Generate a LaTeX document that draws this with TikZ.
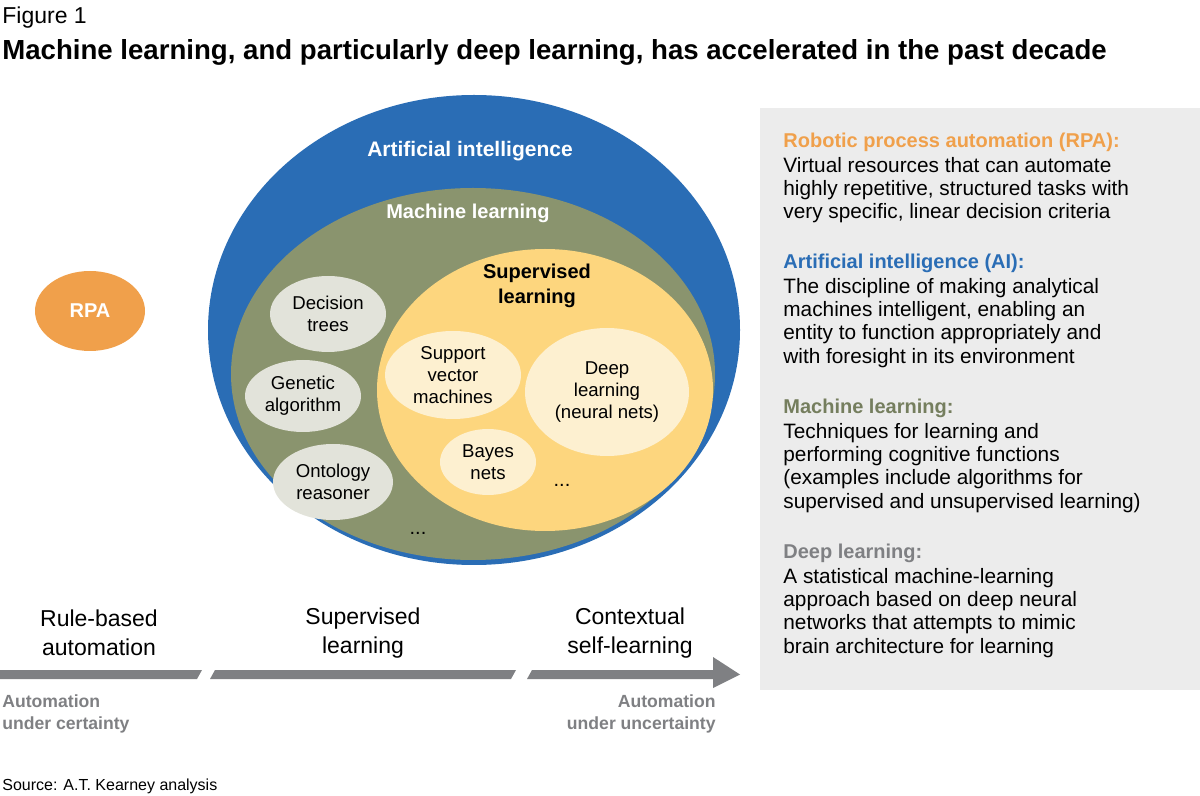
\documentclass[tikz,border=0pt]{standalone}
\usepackage{fontspec}
\setmainfont{Liberation Sans}
\usetikzlibrary{calc,shapes.geometric,arrows.meta}
\definecolor{aiblue}{HTML}{2A6DB5}
\definecolor{mlolive}{HTML}{8A946E}
\definecolor{slyellow}{HTML}{FDD67E}
\definecolor{dlcream}{HTML}{FDF0D0}
\definecolor{algogrey}{HTML}{E2E3DA}
\definecolor{rpaorange}{HTML}{F0A04B}
\definecolor{barGrey}{HTML}{7F8083}
\definecolor{panelGrey}{HTML}{ECECEC}
\definecolor{dlGrey}{HTML}{7F8083}
\tikzset{
  blob/.style={ellipse,inner sep=0pt,align=center,font=\fontsize{9.3}{11}\selectfont},
  heading/.style={anchor=north west,inner sep=0pt,font=\fontsize{10}{11.5}\selectfont\bfseries},
  body/.style={anchor=north west,inner sep=0pt,align=left,font=\fontsize{10.4}{11.6}\selectfont},
  stage/.style={align=center,font=\fontsize{11.5}{14.5}\selectfont},
  pole/.style={inner sep=0pt,font=\fontsize{8.8}{11}\selectfont\bfseries,text=barGrey}
}
\begin{document}
\begin{tikzpicture}[x=0.5pt,y=-0.5pt]
  \useasboundingbox (0,0) rectangle (1200,796);

  %% Title
  \node[anchor=west,inner sep=0pt,font=\fontsize{11.5}{12}\selectfont] (fig) at (2,18) {Figure 1};
  \node[anchor=west,inner sep=0pt,font=\fontsize{13.8}{14}\selectfont\bfseries] (title) at (2,52)
    {Machine learning, and particularly deep learning, has accelerated in the past decade};

  %% Nested sets (sizes in px, halved to pt)
  \node[blob,fill=aiblue,minimum width=266pt,minimum height=235pt] (AI) at (474,330) {};
  \node[font=\fontsize{10.5}{12}\selectfont\bfseries,text=white] (AIlab) at (470,151) {Artificial intelligence};
  \node[blob,fill=mlolive,minimum width=242pt,minimum height=186pt] (ML) at (473,374) {};
  \node[font=\fontsize{10}{12}\selectfont\bfseries,text=white] (MLlab) at (468,213) {Machine learning};
  \node[blob,fill=slyellow,minimum width=168pt,minimum height=141pt] (SL) at (545,390) {};
  \node[align=center,font=\fontsize{10}{12.5}\selectfont\bfseries] (SLlab) at (537,286) {Supervised\\learning};

  %% Algorithms
  \foreach \n/\x/\y/\w/\h/\t in {DT/328/314/116/76/Decision\\trees,
                                  GA/303/396/116/72/Genetic\\algorithm,
                                  OR/333/482/120/76/Ontology\\reasoner}
  {
    \node[blob,fill=algogrey,minimum width=0.5*\w,minimum height=0.5*\h] (\n) at (\x,\y) {\t};
  }
  \foreach \n/\x/\y/\w/\h/\t in {SVM/453/375/136/88/Support\\vector\\machines,
                                  BN/488/462/96/66/Bayes\\nets,
                                  DL/607/392/164/128/Deep\\learning\\(neural nets)}
  {
    \node[blob,fill=dlcream,minimum width=0.5*\w,minimum height=0.5*\h] (\n) at (\x,\y) {\t};
  }
  \node (moreSL) at (562,485) {...};
  \node (moreML) at (418,533) {...};

  \node[blob,fill=rpaorange,minimum width=55pt,minimum height=40pt,text=white,
        font=\fontsize{10}{12}\selectfont\bfseries] (RPA) at (90,311) {RPA};

  %% Timeline
  \fill[barGrey] (0,670) -- (202,670) -- (197,679) -- (0,679) -- cycle;
  \fill[barGrey] (215,670) -- (516,670) -- (511,679) -- (210,679) -- cycle;
  \fill[barGrey] (532,670) -- (713,670) -- (713,657) -- (740,674.5) -- (713,688) -- (713,679) -- (527,679) -- cycle;
  \node[stage] (S1) at (99,633) {Rule-based\\automation};
  \node[stage] (S2) at (363,633) {Supervised\\learning};
  \node[stage] (S3) at (630,633) {Contextual\\self-learning};
  \node[pole,anchor=north west,align=left] (P1) at (2,694) {Automation\\under certainty};
  \node[pole,anchor=north east,align=right] (P2) at (716,694) {Automation\\under uncertainty};

  %% Definitions panel
  \fill[panelGrey] (760,108) rectangle (1200,690);
  \node[heading,text=rpaorange] (hRPA) at (783,133) {Robotic process automation (RPA):};
  \node[body] (bRPA) at (783,157) {Virtual resources that can automate\\highly repetitive, structured tasks with\\very specific, linear decision criteria};
  \node[heading,text=aiblue] (hAI) at (783,254) {Artificial intelligence (AI):};
  \node[body] (bAI) at (783,278) {The discipline of making analytical\\machines intelligent, enabling an\\entity to function appropriately and\\with foresight in its environment};
  \node[heading,text=mlolive!85!black] (hML) at (783,399) {Machine learning:};
  \node[body] (bML) at (783,423) {Techniques for learning and\\performing cognitive functions\\(examples include algorithms for\\supervised and unsupervised learning)};
  \node[heading,text=dlGrey] (hDL) at (783,544) {Deep learning:};
  \node[body] (bDL) at (783,568) {A statistical machine-learning\\approach based on deep neural\\networks that attempts to mimic\\brain architecture for learning};

  \node[anchor=west,inner sep=0pt,font=\fontsize{8}{10}\selectfont] (src) at (2,786) {Source: A.T. Kearney analysis};
\end{tikzpicture}
\end{document}
